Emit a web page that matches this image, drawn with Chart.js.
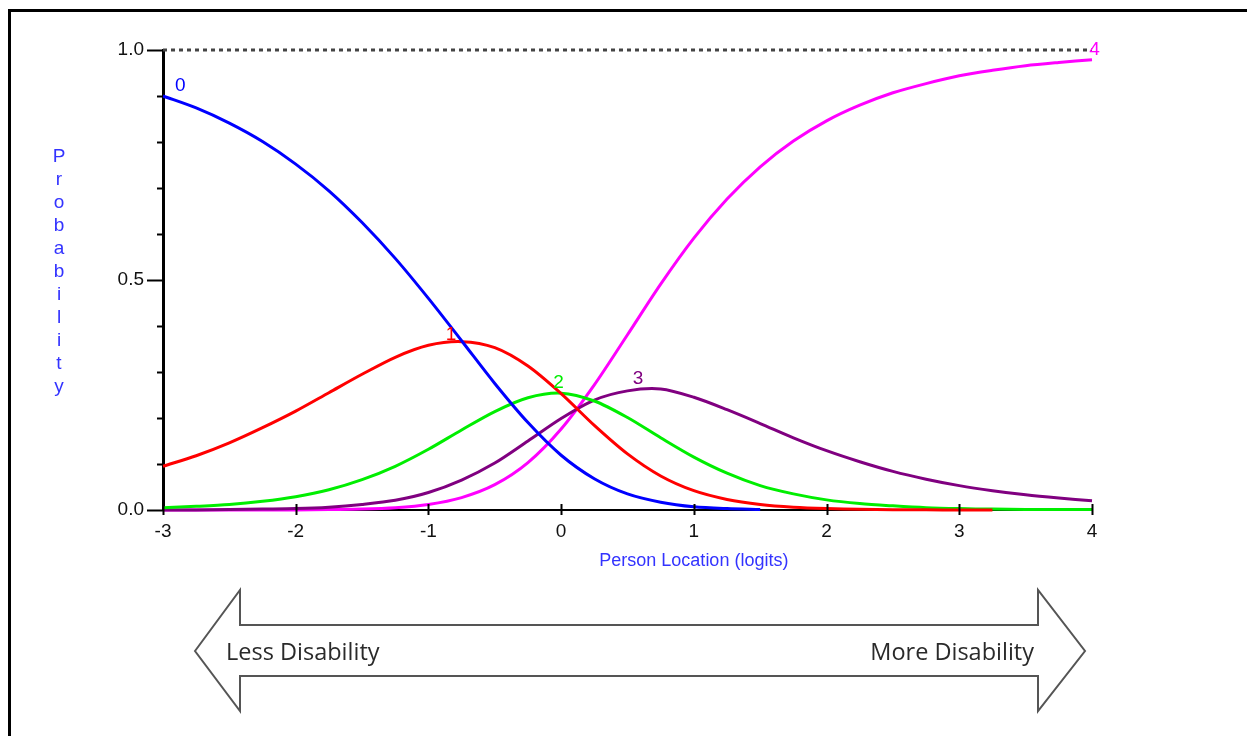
<!DOCTYPE html>
<html>
<head>
<meta charset="utf-8">
<script src="https://cdn.jsdelivr.net/npm/chart.js@4/dist/chart.umd.min.js"></script>
<style>
  html, body { margin: 0; padding: 0; background: #fff; }
  #wrap { position: relative; width: 1247px; height: 736px; overflow: hidden; }
  #frame { position: absolute; left: 8px; top: 9px; width: 1240px; height: 800px;
           border-left: 3px solid #000; border-top: 3px solid #000; box-sizing: border-box; }
  canvas { position: absolute; left: 0; top: 0; }
</style>
</head>
<body>
<div id="wrap">
  <div id="frame"></div>
  <canvas id="chart" width="1247" height="736"></canvas>
</div>
<script>
// Person location (logits)
const locations = [-3, -2.75, -2.5, -2.25, -2, -1.75, -1.5, -1.25, -1, -0.75, -0.5, -0.25, 0,
  0.25, 0.5, 0.75, 1, 1.25, 1.5, 1.75, 2, 2.25, 2.5, 2.75, 3, 3.25, 3.5, 3.75, 4];

// Category probability curves
const cat0 = [0.900, 0.874, 0.841, 0.801, 0.752, 0.694, 0.625, 0.547, 0.460, 0.368, 0.275, 0.190, 0.119,
  0.068, 0.035, 0.017, 0.007, 0.003, 0.001, null, null, null, null, null, null, null, null, null, null];
const cat1 = [0.095, 0.118, 0.146, 0.179, 0.215, 0.255, 0.295, 0.332, 0.358, 0.366, 0.353, 0.313, 0.253,
  0.184, 0.122, 0.074, 0.042, 0.023, 0.012, 0.006, 0.003, 0.0015, 0.0007, 0.0003, 0.0002, 0.0001, null, null, null];
const cat2 = [0.005, 0.008, 0.012, 0.019, 0.029, 0.044, 0.066, 0.095, 0.132, 0.174, 0.214, 0.244, 0.254,
  0.237, 0.201, 0.157, 0.115, 0.080, 0.053, 0.035, 0.022, 0.014, 0.009, 0.005, 0.003, 0.002, 0.001, 0.001, 0.001];
const cat3 = [0.000, 0.000, 0.001, 0.002, 0.003, 0.006, 0.012, 0.021, 0.038, 0.065, 0.102, 0.150, 0.199,
  0.239, 0.259, 0.263, 0.245, 0.218, 0.188, 0.157, 0.129, 0.105, 0.084, 0.067, 0.053, 0.042, 0.033, 0.026, 0.020];
const cat4 = [0.000, 0.000, 0.000, 0.000, 0.000, 0.001, 0.002, 0.005, 0.012, 0.027, 0.055, 0.103, 0.176,
  0.272, 0.381, 0.491, 0.591, 0.676, 0.746, 0.802, 0.846, 0.880, 0.907, 0.927, 0.944, 0.956, 0.966, 0.973, 0.979];
const upperLine = locations.map(() => 1);

const seriesNames = ['0', '1', '2', '3', '4'];
const seriesColors = ['#0000ff', '#ff0000', '#00ee00', '#800080', '#ff00ff'];
const seriesValues = [cat0, cat1, cat2, cat3, cat4];
// where each curve number sits, in data units
const tagX = [-2.87, -0.83, -0.02, 0.58, 4.02];
const tagY = [0.922, 0.382, 0.276, 0.285, 1.0];

const yTicks = [0, 0.1, 0.2, 0.3, 0.4, 0.5, 0.6, 0.7, 0.8, 0.9, 1.0];
const xTicks = [-3, -2, -1, 0, 1, 2, 3, 4];
const yMajor = [0, 0.5, 1.0];

const FONT = '"Liberation Sans", Arial, sans-serif';

const toPoints = (vals) => locations.map((x, i) => ({ x: x, y: vals[i] }));

const datasets = seriesValues.map((vals, i) => ({
  label: seriesNames[i],
  data: toPoints(vals),
  borderColor: seriesColors[i],
  borderWidth: 3,
  pointRadius: 0,
  tension: 0.3,
  clip: 4,
  spanGaps: false
}));
datasets.push({
  label: 'ref',
  data: toPoints(upperLine),
  borderColor: '#444',
  borderWidth: 3,
  borderDash: [4, 4],
  pointRadius: 0,
  clip: false
});

// Axis ticks, axis titles, curve numbers and the disability arrow
const extras = {
  id: 'extras',
  afterDatasetsDraw(chart) {
    const { ctx, scales: { x, y } } = chart;
    const x0 = x.getPixelForValue(-3);
    const y0 = y.getPixelForValue(0);
    ctx.save();
    ctx.strokeStyle = '#000';
    ctx.lineWidth = 2;
    // y ticks
    yTicks.forEach(v => {
      const py = Math.round(y.getPixelForValue(v)) + 0.5;
      const len = yMajor.includes(v) ? 16 : 6;
      ctx.beginPath();
      ctx.moveTo(x0 - len, py);
      ctx.lineTo(x0, py);
      ctx.stroke();
    });
    // x ticks
    xTicks.forEach(v => {
      const px = Math.round(x.getPixelForValue(v)) + 0.5;
      ctx.beginPath();
      ctx.moveTo(px, y0 - 6);
      ctx.lineTo(px, y0 + 5);
      ctx.stroke();
    });
    // curve numbers
    ctx.font = '19px ' + FONT;
    ctx.textAlign = 'center';
    ctx.textBaseline = 'middle';
    seriesNames.forEach((n, i) => {
      ctx.fillStyle = seriesColors[i];
      ctx.fillText(n, x.getPixelForValue(tagX[i]), y.getPixelForValue(tagY[i]));
    });
    // axis titles
    ctx.fillStyle = '#3333ff';
    ctx.font = '18px ' + FONT;
    ctx.fillText('Person Location (logits)', x.getPixelForValue(1.0), 561);
    ctx.font = '19px ' + FONT;
    const letters = 'Probability'.split('');
    letters.forEach((ch, i) => ctx.fillText(ch, 59, 157 + i * 23));

    // double arrow
    ctx.strokeStyle = '#555';
    ctx.lineWidth = 2;
    ctx.fillStyle = '#fff';
    ctx.beginPath();
    ctx.moveTo(195, 651);
    ctx.lineTo(240, 590);
    ctx.lineTo(240, 625);
    ctx.lineTo(1038, 625);
    ctx.lineTo(1038, 590);
    ctx.lineTo(1085, 651);
    ctx.lineTo(1038, 711);
    ctx.lineTo(1038, 676);
    ctx.lineTo(240, 676);
    ctx.lineTo(240, 711);
    ctx.closePath();
    ctx.fill();
    ctx.stroke();
    ctx.fillStyle = '#2a2a2a';
    ctx.font = '23.5px "Open Sans", Lato, sans-serif';
    ctx.textAlign = 'left';
    ctx.fillText('Less Disability', 226, 653);
    ctx.textAlign = 'right';
    ctx.fillText('More Disability', 1034, 653);
    ctx.restore();
  }
};

new Chart(document.getElementById('chart'), {
  type: 'line',
  data: { datasets: datasets },
  options: {
    responsive: false,
    animation: false,
    events: [],
    layout: { padding: { left: 0, right: 155, top: 50, bottom: 0 } },
    plugins: { legend: { display: false }, tooltip: { enabled: false } },
    scales: {
      x: {
        type: 'linear',
        min: -3,
        max: 4,
        afterFit: (s) => { s.height = 226; },
        afterBuildTicks: (s) => { s.ticks = xTicks.map(v => ({ value: v })); },
        grid: { drawOnChartArea: false, drawTicks: false },
        border: { display: true, color: '#000', width: 2 },
        ticks: { color: '#111', font: { family: FONT, size: 19 }, padding: 10 }
      },
      y: {
        min: 0,
        max: 1,
        afterFit: (s) => { s.width = 163; },
        afterBuildTicks: (s) => { s.ticks = yMajor.map(v => ({ value: v })); },
        grid: { drawOnChartArea: false, drawTicks: false },
        border: { display: true, color: '#000', width: 3 },
        ticks: {
          color: '#111',
          font: { family: FONT, size: 19 },
          padding: 19,
          callback: (v) => Number(v).toFixed(1)
        }
      }
    }
  },
  plugins: [extras]
});
</script>
</body>
</html>
